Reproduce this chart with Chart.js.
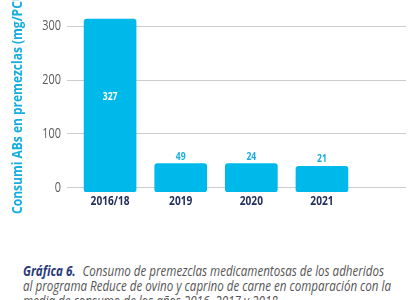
<!DOCTYPE html>
<html>
<head>
<meta charset="utf-8">
<script src="https://cdn.jsdelivr.net/npm/chart.js@4/dist/chart.umd.min.js"></script>
<style>
  html, body { margin: 0; padding: 0; background: #fff; width: 410px; height: 300px; overflow: hidden; }
  #wrap { position: absolute; left: 0; top: 0; width: 410px; height: 250px; }
  #caption {
    position: absolute; left: 23px; top: 263px; white-space: nowrap;
    font-family: 'Open Sans', sans-serif; transform-origin: 0 0;
    font-style: italic; font-size: 15px; line-height: 15px; color: #555;
  }
  #caption b { color: #2a3a78; margin-right: 5px; }
</style>
</head>
<body>
<div id="wrap"><canvas id="chart" width="410" height="250"></canvas></div>
<div id="caption"><span id="line1"><b>Gráfica 6.</b> Consumo de premezclas medicamentosas de los adheridos</span><br>al programa Reduce de ovino y caprino de carne en comparación con la<br>media de consumo de los años 2016, 2017 y 2018</div>
<script>
// Datos
const categories = ['2016/18', '2019', '2020', '2021'];
const barHeights = [314, 45, 45, 40];       // altura de las barras tal como se dibujan
const barLabels = ['327', '49', '24', '21']; // cifras impresas sobre las barras
const yTicks = [0, 100, 200, 300];
const yTitle = 'Consumi ABs en premezclas (mg/PCU)';

const FONT = "'Open Sans', sans-serif";
const SQ = 0.78; // compresión horizontal para imitar la fuente condensada
const CYAN = '#00b9eb';
const TITLE_CYAN = '#17addf';

// Ajuste del pie de figura al ancho del original
const line1 = document.getElementById('line1');
const cap = document.getElementById('caption');
cap.style.transform = `scaleX(${361 / line1.getBoundingClientRect().width})`;

function narrowText(ctx, text, x, y, align, rot = 0, sq = SQ) {
  ctx.save();
  ctx.translate(x, y);
  ctx.rotate(rot);
  ctx.scale(sq, 1);
  ctx.textAlign = align;
  ctx.textBaseline = 'middle';
  ctx.fillText(text, 0, 0);
  ctx.restore();
}

// Textos de ejes y etiquetas de valor
const textPlugin = {
  id: 'textPlugin',
  afterDraw(chart) {
    const { ctx, scales: { x, y } } = chart;
    const meta = chart.getDatasetMeta(0);

    ctx.save();
    ctx.font = '14px ' + FONT;
    ctx.fillStyle = '#5a5a5a';
    yTicks.forEach(v => narrowText(ctx, String(v), 61, y.getPixelForValue(v), 'right'));

    ctx.font = 'bold 13px ' + FONT;
    ctx.fillStyle = '#22305e';
    categories.forEach((c, i) => narrowText(ctx, c, x.getPixelForValue(i), 201, 'center'));

    ctx.font = 'bold 15px ' + FONT;
    ctx.fillStyle = TITLE_CYAN;
    narrowText(ctx, yTitle, 18, 101, 'center', -Math.PI / 2, 0.8);

    ctx.font = 'bold 11px ' + FONT;
    meta.data.forEach((bar, i) => {
      if (i === 0) {
        ctx.fillStyle = '#fff';
        narrowText(ctx, barLabels[i], bar.x, bar.y + (bar.base - bar.y) * 0.45, 'center');
      } else {
        ctx.fillStyle = TITLE_CYAN;
        narrowText(ctx, barLabels[i], bar.x, bar.y - 7, 'center');
      }
    });
    ctx.restore();
  }
};

new Chart(document.getElementById('chart'), {
  type: 'bar',
  data: {
    datasets: [{
      data: categories.map((c, i) => ({ x: i, y: barHeights[i] })),
      backgroundColor: CYAN,
      borderRadius: 3,
      borderSkipped: false,
      barThickness: 52,
      base: -8
    }]
  },
  options: {
    responsive: false,
    animation: false,
    events: [],
    layout: { padding: { top: 5, right: 4, left: 0, bottom: 0 } },
    plugins: { legend: { display: false }, tooltip: { enabled: false } },
    scales: {
      x: {
        type: 'linear',
        offset: false,
        min: -0.61,
        max: 4.19,
        grid: { display: false },
        border: { display: false },
        afterBuildTicks: s => { s.ticks = categories.map((c, i) => ({ value: i })); },
        afterFit: s => { s.height = 58; },
        ticks: { display: false }
      },
      y: {
        min: -8,
        max: 340,
        afterBuildTicks: s => { s.ticks = yTicks.map(v => ({ value: v })); },
        afterFit: s => { s.width = 67; },
        grid: { color: '#cccccc', lineWidth: 1, drawTicks: false },
        border: { display: false },
        ticks: { display: false }
      }
    }
  },
  plugins: [textPlugin]
});
</script>
</body>
</html>
